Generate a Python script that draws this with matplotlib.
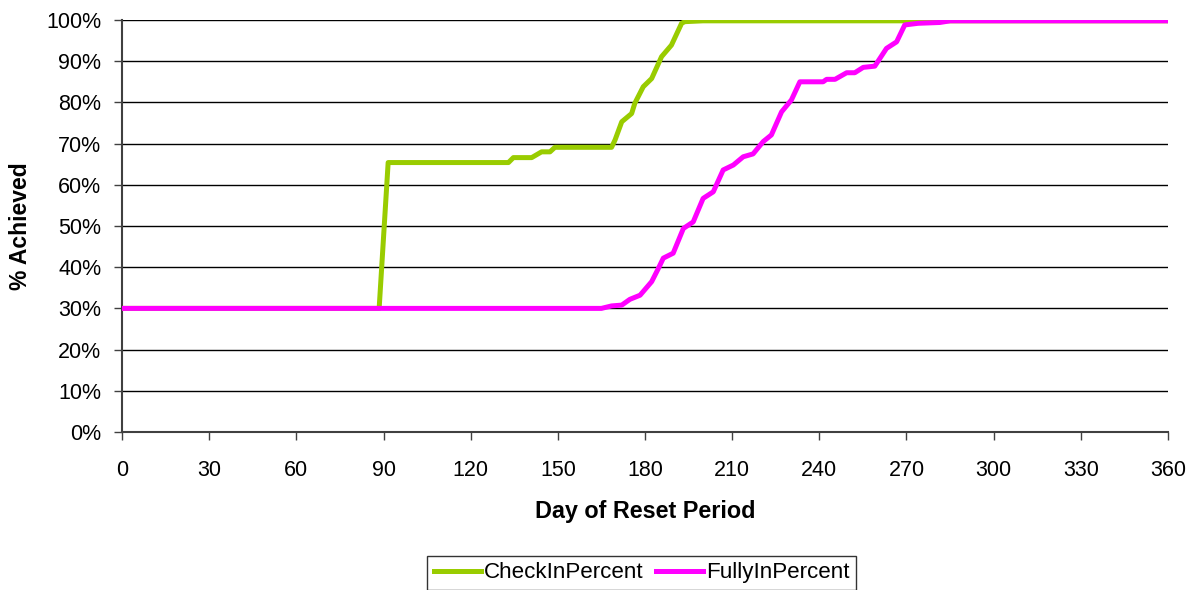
import matplotlib.pyplot as plt
from matplotlib.ticker import PercentFormatter

plt.rcParams['font.family'] = ['Liberation Sans', 'DejaVu Sans']

# CheckInPercent curve (day, fraction)
check_days = [0, 88.5, 91.6, 133, 134.7, 141, 144.4, 147.3, 149, 168.5,
              169.7, 172, 175.4, 176.5, 179.4, 182.3, 185.7, 189.1, 192.6,
              193.7, 200, 360]
check_vals = [0.30, 0.30, 0.654, 0.654, 0.666, 0.666, 0.680, 0.680, 0.691, 0.691,
              0.709, 0.753, 0.773, 0.798, 0.838, 0.858, 0.911, 0.939, 0.992,
              0.996, 0.998, 0.998]

# FullyInPercent curve (day, fraction)
fully_days = [0, 165, 168.5, 172, 174.8, 178.3, 182.3, 184.6, 186.3, 189.7,
              193.2, 196.6, 200, 203.5, 206.9, 210.4, 213.8, 217.2, 220.7,
              223.5, 227, 230.4, 233.3, 241.3, 242.5, 245.4, 249.4, 252.2,
              255.1, 259.1, 263.1, 266.6, 269.4, 274, 281.5, 285, 360]
fully_vals = [0.30, 0.30, 0.306, 0.308, 0.322, 0.332, 0.365, 0.397, 0.422, 0.434,
              0.494, 0.510, 0.567, 0.583, 0.636, 0.648, 0.668, 0.675, 0.705,
              0.721, 0.777, 0.806, 0.850, 0.850, 0.856, 0.856, 0.872, 0.872,
              0.885, 0.888, 0.931, 0.947, 0.988, 0.992, 0.994, 0.998, 0.998]

x_ticks = list(range(0, 361, 30))

fig = plt.figure(figsize=(11.95, 5.9), dpi=100)
ax = fig.add_axes([0.1021, 0.2678, 0.8753, 0.6983])

for y in [i / 10 for i in range(1, 11)]:
    ax.axhline(y, color='black', lw=1, zorder=1)

ax.plot(check_days, check_vals, color='#99CC00', lw=3.6, label='CheckInPercent', zorder=3)
ax.plot(fully_days, fully_vals, color='#FF00FF', lw=3.6, label='FullyInPercent', zorder=4)

ax.set_xlim(0, 360)
ax.set_ylim(0, 1)
ax.set_xticks(x_ticks)
ax.set_yticks([i / 10 for i in range(11)])
ax.yaxis.set_major_formatter(PercentFormatter(1.0, decimals=0))
ax.tick_params(labelsize=15.5, length=6, width=1, color='#404040')
ax.tick_params(axis='x', pad=14)
ax.tick_params(axis='y', pad=9)

for s in ['top', 'right']:
    ax.spines[s].set_visible(False)
for s in ['left', 'bottom']:
    ax.spines[s].set_color('#404040')
    ax.spines[s].set_linewidth(1.5)

ax.set_xlabel('Day of Reset Period', fontsize=16.8, fontweight='bold', labelpad=14)
ax.set_ylabel('% Achieved', fontsize=16.5, fontweight='bold', labelpad=10)

leg = fig.legend(loc='center', bbox_to_anchor=(0.537, 0.029), ncol=2, fontsize=16.1,
                 frameon=True, fancybox=False, edgecolor='black', handlelength=2.1,
                 handletextpad=0.15, columnspacing=0.55, borderpad=0.3, borderaxespad=0)
leg.get_frame().set_linewidth(1)

fig.savefig('out.png', dpi=100)
